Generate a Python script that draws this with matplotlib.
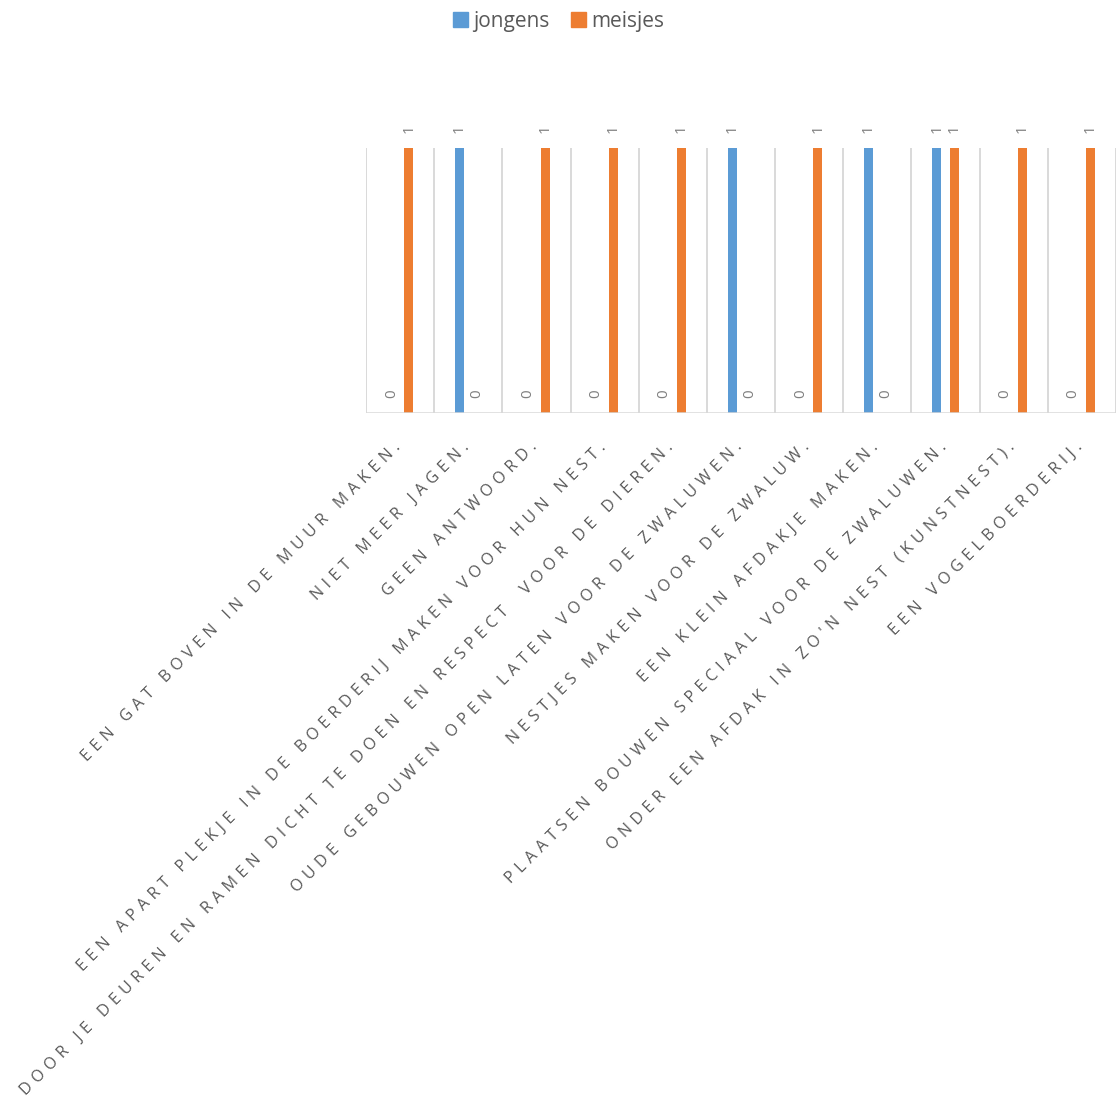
import matplotlib
matplotlib.use("Agg")
import matplotlib.pyplot as plt
import numpy as np

categories = [
    "EEN GAT BOVEN IN DE MUUR MAKEN.",
    "NIET MEER JAGEN.",
    "GEEN ANTWOORD.",
    "EEN APART PLEKJE IN DE BOERDERIJ MAKEN VOOR HUN NEST.",
    "DOOR JE DEUREN EN RAMEN DICHT TE DOEN EN RESPECT  VOOR DE DIEREN.",
    "OUDE GEBOUWEN OPEN LATEN VOOR DE ZWALUWEN.",
    "NESTJES MAKEN VOOR DE ZWALUW.",
    "EEN KLEIN AFDAKJE MAKEN.",
    "PLAATSEN BOUWEN SPECIAAL VOOR DE ZWALUWEN.",
    "ONDER EEN AFDAK IN ZO'N NEST (KUNSTNEST).",
    "EEN VOGELBOERDERIJ.",
]
jongens = [0, 1, 0, 0, 0, 1, 0, 1, 1, 0, 0]
meisjes = [1, 0, 1, 1, 1, 0, 1, 0, 1, 1, 1]
series_names = ["jongens", "meisjes"]
colors = ["#5B9BD5", "#ED7D31"]

FONT = ["Open Sans", "DejaVu Sans"]
plt.rcParams["font.family"] = FONT

def spaced(s):
    # widen tracking with thin spaces between letters
    return "\u2009\u2009".join(s)

fig = plt.figure(figsize=(11.17, 10.99), dpi=100)
ax = fig.add_axes([366 / 1117, 1 - 413 / 1099, 750 / 1117, 265 / 1099])

x = np.arange(len(categories))
w = 0.132
off = 0.128
for vals, name, col, d in zip([jongens, meisjes], series_names, colors, [-off, off]):
    ax.bar(x + d, vals, width=w, color=col, label=name, zorder=3)
    for xi, v in zip(x + d, vals):
        ax.annotate(str(v), (xi, v), xytext=(0, 11), textcoords="offset points",
                    rotation=90, ha="center", va="bottom", fontsize=11,
                    color="#7F7F7F", annotation_clip=False)

ax.set_xlim(-0.5, len(categories) - 0.5)
ax.set_ylim(0, 1)
for b in np.arange(-0.5, len(categories), 1.0):
    ax.axvline(b, color="#D9D9D9", lw=1.4, zorder=1)
for s in ax.spines.values():
    s.set_visible(False)
ax.axhline(0, color="#D9D9D9", lw=1.8, zorder=4)
ax.set_yticks([])
ax.set_xticks(x + 0.02)
ax.set_xticklabels([spaced(c) for c in categories], rotation=45, ha="right",
                   rotation_mode="anchor", va="baseline", fontsize=11.6,
                   color="#595959")
ax.tick_params(axis="x", length=0, pad=25)

handles = [plt.Rectangle((0, 0), 1, 1, color=c) for c in colors]
fig.legend(handles, series_names, loc="center", bbox_to_anchor=(0.5, 1 - 21 / 1099),
           ncol=2, frameon=False, fontsize=15, handlelength=0.72, handleheight=0.72,
           handletextpad=0.25, columnspacing=1.05, labelcolor="#595959")

fig.savefig("out.png", dpi=100, facecolor="white")
